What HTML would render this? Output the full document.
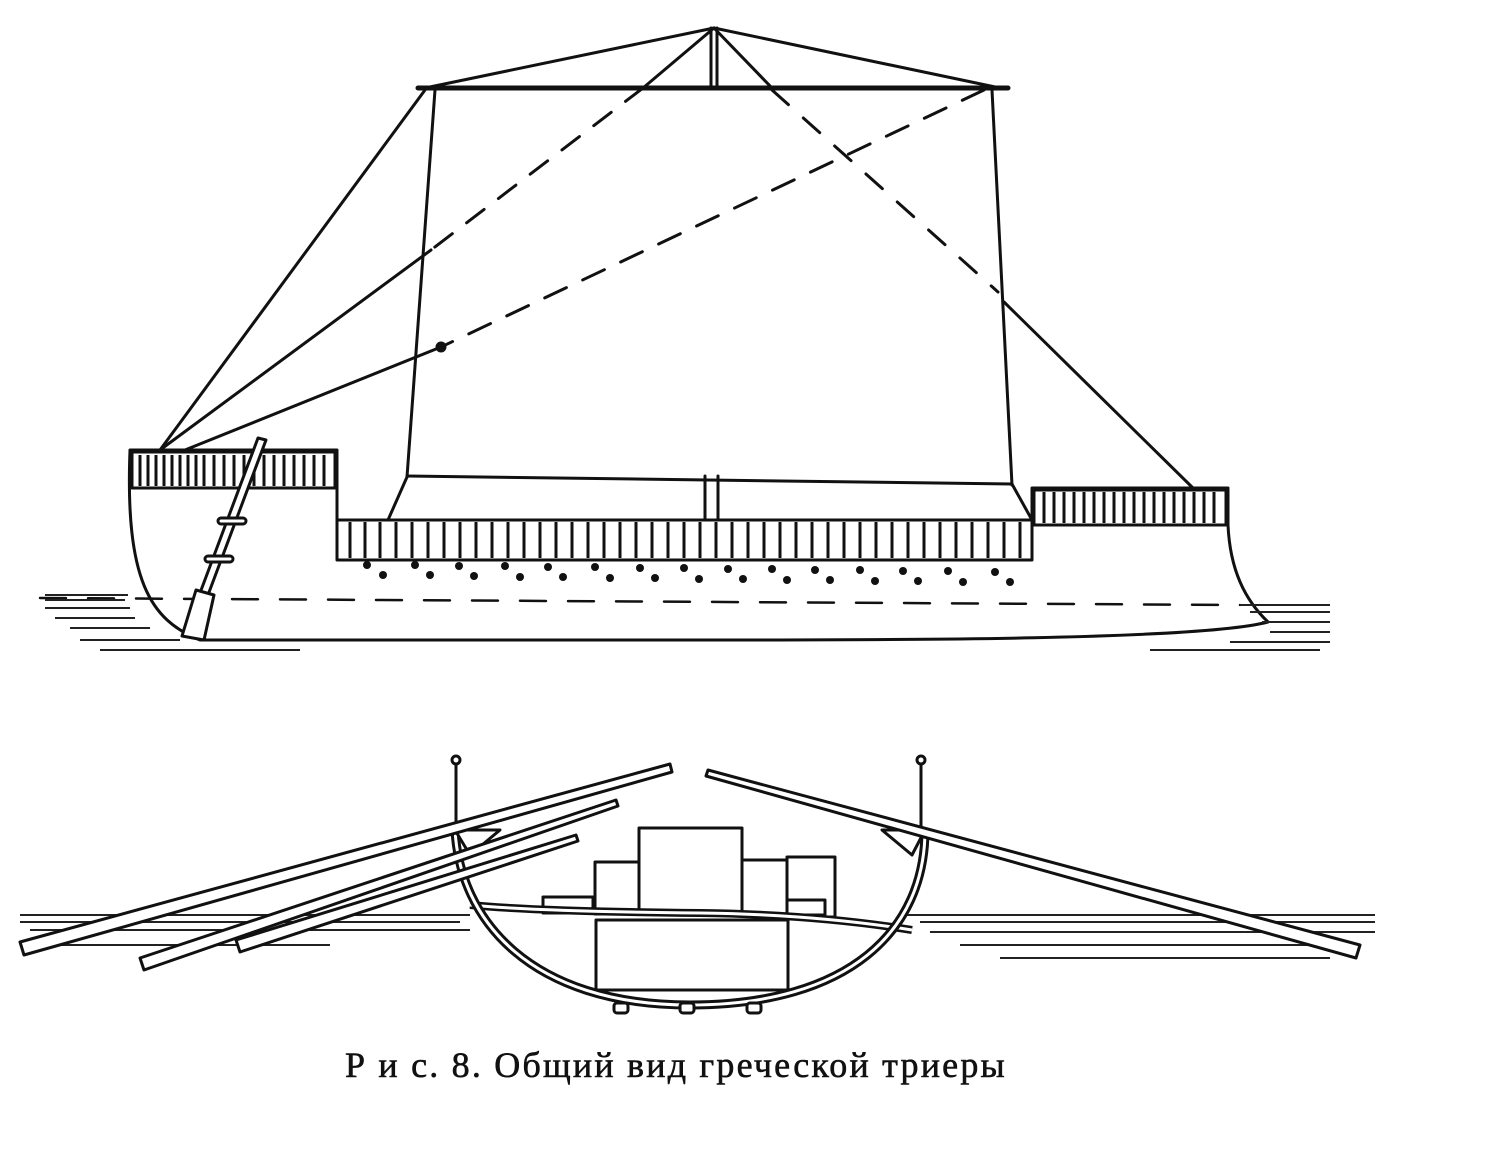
<!DOCTYPE html>
<html><head><meta charset="utf-8"><style>
html,body{margin:0;padding:0;background:#fff;}
svg{display:block;}
</style></head><body>
<svg width="1500" height="1162" viewBox="0 0 1500 1162" xmlns="http://www.w3.org/2000/svg">
<g fill="none" stroke="#111" stroke-width="3" stroke-linecap="round" stroke-linejoin="round">
<!-- rigging -->
<line x1="714" y1="28" x2="425" y2="88"/>
<line x1="714" y1="28" x2="1000" y2="88"/>
<line x1="714" y1="28" x2="643" y2="88"/>
<line x1="714" y1="28" x2="772" y2="88"/>
<line x1="711" y1="28" x2="711" y2="88"/><line x1="717" y1="28" x2="717" y2="88"/>
<line x1="418" y1="88" x2="1008" y2="88" stroke-width="5"/>
<line x1="643" y1="88" x2="431" y2="250" stroke-dasharray="22,18"/>
<line x1="431" y1="250" x2="160" y2="450"/>
<line x1="425" y1="90" x2="160" y2="450"/>
<line x1="984" y1="90" x2="441" y2="347" stroke-dasharray="24,18"/>
<line x1="441" y1="347" x2="180" y2="452"/>
<circle cx="441" cy="347" r="4" fill="#111"/>
<line x1="772" y1="90" x2="998" y2="292" stroke-dasharray="22,20"/>
<line x1="1004" y1="302" x2="1195" y2="490"/>
<!-- sail -->
<line x1="435" y1="90" x2="407" y2="477"/>
<line x1="992" y1="90" x2="1012" y2="485"/>
<line x1="407" y1="476" x2="1012" y2="484"/>
<line x1="407" y1="477" x2="388" y2="520"/>
<line x1="1012" y1="484" x2="1032" y2="520"/>
<line x1="705" y1="476" x2="705" y2="520"/><line x1="718" y1="476" x2="718" y2="520"/>
<!-- hull -->
<path d="M130 450 L337 450 L337 520 L1032 520 L1032 488 L1228 488 L1228 525 C1230 570 1245 600 1268 622 C1200 640 900 640 700 640 L200 640 C150 620 125 580 130 450 Z" fill="#fff"/>
<rect x="132" y="452" width="203" height="36" stroke-width="3"/>
<rect x="337" y="520" width="695" height="40"/>
<rect x="1034" y="490" width="192" height="35"/>
<line x1="40" y1="598" x2="1240" y2="605" stroke-dasharray="26,22" stroke-width="2.5"/>
</g>
<!-- railings -->
<g stroke="#111" stroke-width="3">
<path d="M140 455V486M148 455V486M156 455V486M164 455V486M172 455V486M180 455V486M188 455V486M196 455V486M204 455V486M214 455V486M224 455V486M234 455V486M244 455V486M254 455V486M264 455V486M274 455V486M284 455V486M294 455V486M304 455V486M314 455V486M324 455V486"/>
<path d="M350 522V558M365 522V558M380 522V558M396 522V558M412 522V558M428 522V558M444 522V558M460 522V558M476 522V558M492 522V558M508 522V558M524 522V558M540 522V558M556 522V558M572 522V558M588 522V558M604 522V558M620 522V558M636 522V558M652 522V558M668 522V558M684 522V558M700 522V558M716 522V558M732 522V558M748 522V558M764 522V558M780 522V558M796 522V558M812 522V558M828 522V558M844 522V558M860 522V558M876 522V558M892 522V558M908 522V558M924 522V558M940 522V558M956 522V558M972 522V558M988 522V558M1004 522V558M1020 522V558"/>
<path d="M1044 492V523M1054 492V523M1064 492V523M1074 492V523M1084 492V523M1094 492V523M1104 492V523M1114 492V523M1124 492V523M1134 492V523M1144 492V523M1154 492V523M1164 492V523M1174 492V523M1184 492V523M1194 492V523M1204 492V523M1214 492V523"/>
</g>
<!-- oar ports -->
<g fill="#111">
<circle cx="367" cy="565" r="4"/><circle cx="383" cy="575" r="4"/><circle cx="415" cy="565" r="4"/><circle cx="430" cy="575" r="4"/><circle cx="459" cy="566" r="4"/><circle cx="474" cy="576" r="4"/><circle cx="505" cy="566" r="4"/><circle cx="520" cy="577" r="4"/><circle cx="548" cy="567" r="4"/><circle cx="563" cy="577" r="4"/><circle cx="595" cy="567" r="4"/><circle cx="610" cy="578" r="4"/><circle cx="640" cy="568" r="4"/><circle cx="655" cy="578" r="4"/><circle cx="684" cy="568" r="4"/><circle cx="699" cy="579" r="4"/><circle cx="728" cy="569" r="4"/><circle cx="743" cy="579" r="4"/><circle cx="772" cy="569" r="4"/><circle cx="787" cy="580" r="4"/><circle cx="815" cy="570" r="4"/><circle cx="830" cy="580" r="4"/><circle cx="860" cy="570" r="4"/><circle cx="875" cy="581" r="4"/><circle cx="903" cy="571" r="4"/><circle cx="918" cy="581" r="4"/><circle cx="948" cy="571" r="4"/><circle cx="963" cy="582" r="4"/><circle cx="995" cy="572" r="4"/><circle cx="1010" cy="582" r="4"/>
</g>
<!-- steering oar -->
<g fill="#fff" stroke="#111" stroke-width="3" stroke-linejoin="round">
<path d="M258 438 L266 440 L208 595 L200 593 Z"/>
<path d="M196 590 L214 595 L204 640 L182 636 Z"/>
<rect x="218" y="518" width="28" height="6" rx="3"/>
<rect x="205" y="556" width="28" height="6" rx="3"/>
</g>
<!-- water -->
<g stroke="#222" stroke-width="2">
<path d="M45 595H128M45 600H125M45 608H130M55 618H135M70 628H150M80 640H180M100 650H300"/>
<path d="M1240 605H1330M1250 612H1330M1262 622H1330M1270 632H1330M1230 642H1330M1150 650H1320"/>
<path d="M20 915H470M20 922H460M30 930H470M60 945H330M900 915H1375M920 922H1375M930 932H1375M960 945H1360M1000 958H1330"/>
</g>
<!-- cross-section -->
<g fill="#fff" stroke="#111" stroke-width="3" stroke-linejoin="round">
<path d="M455 830 C460 920 530 1005 690 1005 C850 1005 925 930 925 830" fill="#fff" stroke="none"/>
<rect x="543" y="897" width="50" height="16"/>
<rect x="595" y="862" width="45" height="52"/>
<rect x="787" y="857" width="48" height="60"/>
<rect x="742" y="860" width="45" height="54"/>
<rect x="639" y="828" width="103" height="86"/>
<rect x="787" y="900" width="38" height="15"/>
<rect x="596" y="920" width="192" height="70"/>
<path d="M470 905 C520 910 600 912 700 913 C780 914 850 920 912 930" fill="none" stroke-width="8" stroke="#111"/>
<path d="M470 905 C520 910 600 912 700 913 C780 914 850 920 912 930" fill="none" stroke-width="3" stroke="#fff"/>
<path d="M455 830 C460 920 530 1005 690 1005 C850 1005 925 930 925 830" fill="none" stroke-width="9" stroke="#111"/>
<path d="M455 830 C460 920 530 1005 690 1005 C850 1005 925 930 925 830" fill="none" stroke-width="3" stroke="#fff"/>
<rect x="614" y="1003" width="14" height="10" rx="3"/><rect x="680" y="1003" width="14" height="10" rx="3"/><rect x="747" y="1003" width="14" height="10" rx="3"/>
<line x1="456" y1="762" x2="456" y2="830"/><circle cx="456" cy="760" r="4"/>
<line x1="921" y1="762" x2="921" y2="830"/><circle cx="921" cy="760" r="4"/>
<path d="M455 830 L500 830 L470 855 Z"/>
<path d="M925 830 L882 830 L912 855 Z"/>
<!-- oars -->
<path d="M670 764 L20 942 L24 955 L672 772 Z"/>
<path d="M616 800 L140 958 L144 970 L618 806 Z"/>
<path d="M576 835 L236 940 L240 952 L578 841 Z"/>
<path d="M708 770 L1360 945 L1356 958 L706 776 Z"/>
</g>
</svg>
<div style="position:absolute;left:345px;top:1044px;font-family:'Liberation Serif','Noto Serif CJK SC',serif;font-size:36px;color:#111;letter-spacing:2.2px;-webkit-text-stroke:0.6px #111;white-space:nowrap;">Р и с. 8. Общий вид греческой триеры</div>
</body></html>
